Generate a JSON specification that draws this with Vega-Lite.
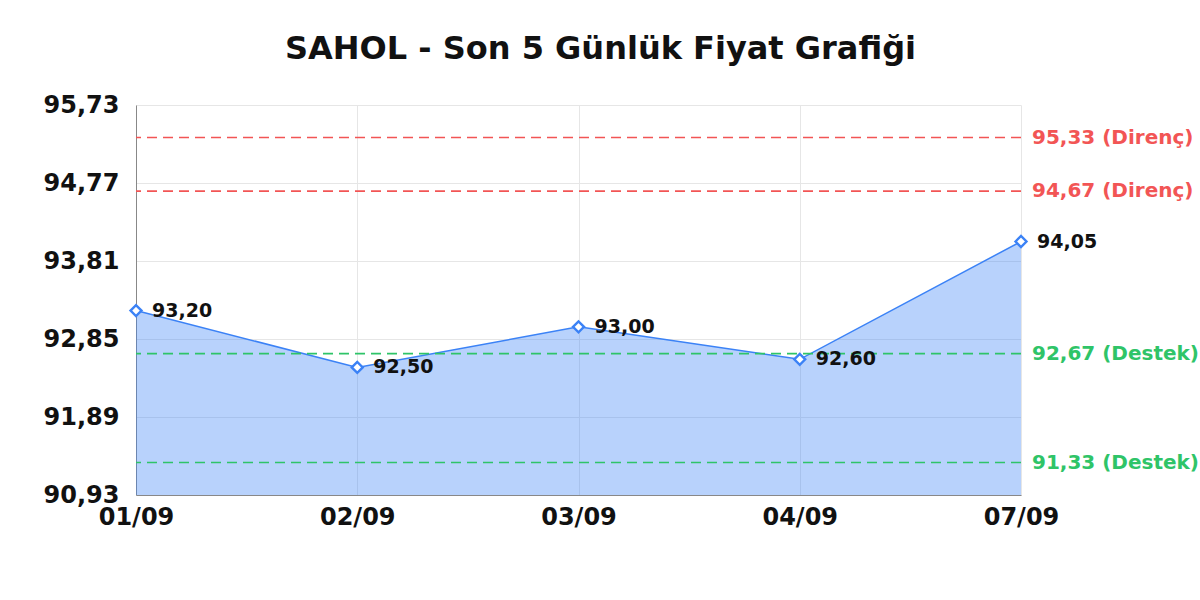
{
  "$schema": "https://vega.github.io/schema/vega-lite/v6.json",
  "autosize": {"type": "none"},
  "padding": {"left": 136, "top": 105, "right": 179, "bottom": 105},
  "width": 885,
  "height": 390,
  "background": "white",
  "title": {
    "text": "SAHOL - Son 5 Günlük Fiyat Grafiği",
    "font": "DejaVu Sans", "fontSize": 32, "fontWeight": "bold", "color": "#111111",
    "anchor": "middle", "frame": "group", "dx": 22, "baseline": "alphabetic", "offset": 2
  },
  "datasets": {
    "prices": [
      {"date": "01/09", "price": 93.20},
      {"date": "02/09", "price": 92.50},
      {"date": "03/09", "price": 93.00},
      {"date": "04/09", "price": 92.60},
      {"date": "07/09", "price": 94.05}
    ],
    "levels": [
      {"level": 95.33, "kind": "Direnç"},
      {"level": 94.67, "kind": "Direnç"},
      {"level": 92.67, "kind": "Destek"},
      {"level": 91.33, "kind": "Destek"}
    ]
  },
  "encoding": {
    "x": {
      "field": "date", "type": "ordinal", "sort": null,
      "scale": {"type": "point", "padding": 0},
      "axis": {"title": null, "labelAngle": 0, "labelFontSize": 24, "labelFont": "DejaVu Sans",
               "labelFontWeight": "bold", "labelColor": "#111111", "ticks": false, "labelPadding": 10,
               "domainColor": "#888888", "gridColor": "#e6e6e6", "grid": true, "labelBaseline": "top"}
    },
    "y": {
      "field": "price", "type": "quantitative",
      "scale": {"domain": [90.93, 95.73], "nice": false, "zero": false},
      "axis": {"title": null, "values": [90.93, 91.89, 92.85, 93.81, 94.77, 95.73], "format": ".2f",
               "labelFontSize": 24, "labelFont": "DejaVu Sans", "labelFontWeight": "bold",
               "labelColor": "#111111", "ticks": false, "labelPadding": 17,
               "domainColor": "#888888", "gridColor": "#e6e6e6"}
    }
  },
  "layer": [
    {
      "data": {"name": "prices"},
      "mark": {"type": "area", "color": "#3b82f6", "opacity": 0.36, "clip": true}
    },
    {
      "data": {"name": "prices"},
      "mark": {"type": "line", "color": "#3b82f6", "strokeWidth": 1.5}
    },
    {
      "data": {"name": "levels"},
      "mark": {"type": "rule", "strokeDash": [10, 6], "strokeWidth": 1.6},
      "encoding": {
        "x": null,
        "y": {"field": "level", "type": "quantitative"},
        "color": {"field": "kind", "type": "nominal",
                  "scale": {"domain": ["Direnç", "Destek"], "range": ["#f25555", "#2fc468"]}, "legend": null}
      }
    },
    {
      "data": {"name": "levels"},
      "transform": [{"calculate": "format(datum.level, '.2f') + ' (' + datum.kind + ')'", "as": "label"}],
      "mark": {"type": "text", "align": "left", "baseline": "middle", "dx": 11,
               "font": "DejaVu Sans", "fontSize": 20, "fontWeight": "bold"},
      "encoding": {
        "x": {"datum": "07/09", "type": "ordinal"},
        "y": {"field": "level", "type": "quantitative"},
        "text": {"field": "label"},
        "color": {"field": "kind", "type": "nominal",
                  "scale": {"domain": ["Direnç", "Destek"], "range": ["#f25555", "#2fc468"]}, "legend": null}
      }
    },
    {
      "data": {"name": "prices"},
      "mark": {"type": "point", "shape": "diamond", "filled": true, "fill": "white",
               "stroke": "#3b82f6", "strokeWidth": 2.4, "size": 120, "opacity": 1}
    },
    {
      "data": {"name": "prices"},
      "mark": {"type": "text", "align": "left", "baseline": "middle", "dx": 16,
               "font": "DejaVu Sans", "fontSize": 19, "fontWeight": "bold", "color": "#111111"},
      "encoding": {"text": {"field": "price", "type": "quantitative", "format": ".2f"}}
    }
  ],
  "config": {
    "locale": {"number": {"decimal": ",", "thousands": ".", "grouping": [3], "currency": ["", " TL"]}},
    "view": {"stroke": null},
    "axisY": {"domain": true},
    "axisX": {"domain": true}
  }
}
